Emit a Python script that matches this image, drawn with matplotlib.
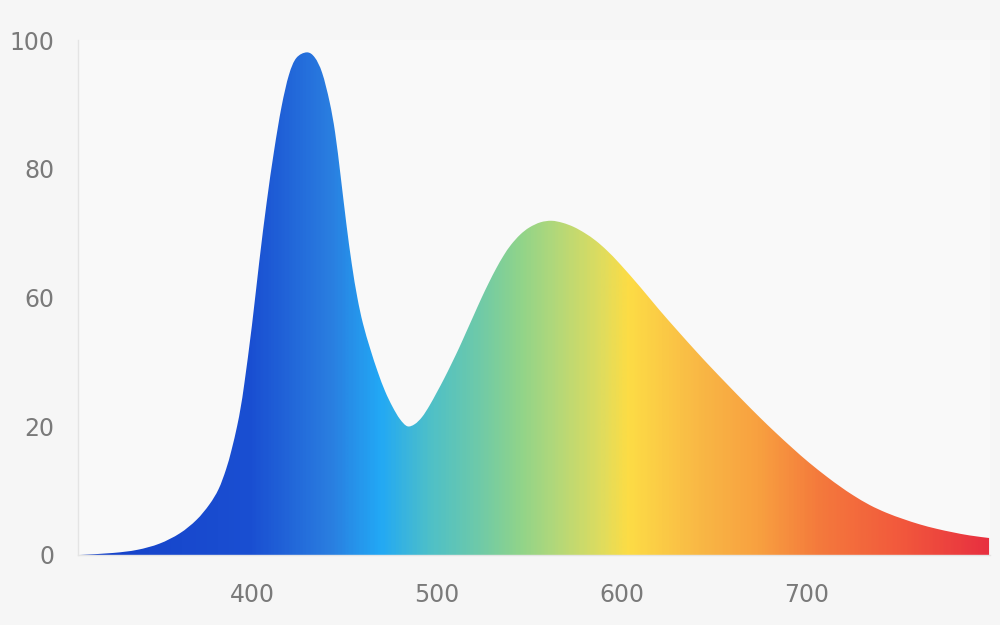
import numpy as np
import matplotlib.pyplot as plt
from matplotlib.path import Path
from matplotlib.patches import PathPatch
from matplotlib.colors import LinearSegmentedColormap

# spectrum (nm, relative intensity on the axis scale)
wavelength = [307, 325, 338, 350, 361, 370, 377, 382, 386, 389,
              392, 394, 396, 400, 404, 408, 412, 416, 420, 424,
              429.7, 434, 438, 442, 445, 448, 451, 454, 457, 460,
              464, 468, 472, 476, 480, 484, 488, 492, 496, 500,
              504, 508, 512, 516, 520, 524, 528, 532, 536, 540,
              545, 550, 556, 562, 568, 574, 580, 586, 592, 599,
              610, 620, 630, 640, 648, 656.8, 666, 674.6, 683, 692.4,
              701, 710.8, 718, 725, 734, 743, 752, 761, 770, 779,
              788, 798.5]
intensity = [0.0, 0.4, 1.0, 2.2, 4.2, 6.8, 9.8, 12.8, 16.6, 20.4,
             25.0, 28.8, 33.5, 44.5, 57.0, 68.5, 78.5, 87.0, 93.2, 96.5,
             97.6, 96.6, 93.6, 88.0, 82.0, 73.5, 64.5, 56.5, 50.0, 45.0,
             40.0, 35.6, 31.8, 28.8, 26.4, 25.0, 25.4, 26.8, 29.0, 31.6,
             34.3, 37.2, 40.2, 43.4, 46.6, 49.8, 52.8, 55.6, 58.1, 60.2,
             62.2, 63.6, 64.6, 64.9, 64.5, 63.7, 62.5, 61.0, 59.1, 56.5,
             52.0, 47.7, 43.6, 39.6, 36.5, 33.2, 29.8, 26.7, 23.8, 20.7,
             18.0, 15.2, 13.3, 11.6, 9.7, 8.2, 7.0, 5.95, 5.1, 4.4,
             3.8, 3.3]

# colour stops of the fill along the wavelength axis
grad_nm = [306, 399, 442, 469, 496, 523, 545, 566, 588, 604, 642, 675, 707, 750, 799]
grad_colors = ['#1540c8', '#1a4fd2', '#2a7ee0', '#22a8f5', '#4ec0c8', '#6fcaa8',
               '#90d48a', '#b5d878', '#dcdc60', '#fddc45', '#f9b845', '#f8a040',
               '#f47a3c', '#f25a3c', '#e83040']

xticks = [400, 500, 600, 700]
ytick_pos = [0, 25, 50, 75, 100]
ytick_labels = ['0', '20', '60', '80', '100']

fig = plt.figure(figsize=(10, 6.25), dpi=100, facecolor='#f6f6f6')
ax = fig.add_axes([0.078, 0.112, 0.912, 0.824])
ax.set_facecolor('#f9f9f9')

# smooth outline (Catmull-Rom through the read points)
P = np.column_stack([wavelength, intensity])
n = len(P)
verts = [tuple(P[0])]
codes = [Path.MOVETO]
for i in range(n - 1):
    p0 = P[i - 1] if i > 0 else P[i]
    p1 = P[i]
    p2 = P[i + 1]
    p3 = P[i + 2] if i + 2 < n else P[i + 1]
    c1 = p1 + (p2 - p0) / 6.0
    c2 = p2 - (p3 - p1) / 6.0
    verts += [tuple(c1), tuple(c2), tuple(p2)]
    codes += [Path.CURVE4] * 3
verts += [(wavelength[-1], 0), (wavelength[0], 0), (wavelength[0], 0)]
codes += [Path.LINETO, Path.LINETO, Path.CLOSEPOLY]

patch = PathPatch(Path(verts, codes), facecolor='none', edgecolor='none')
ax.add_patch(patch)

lo, hi = grad_nm[0], grad_nm[-1]
cmap = LinearSegmentedColormap.from_list(
    'spec', [((g - lo) / (hi - lo), c) for g, c in zip(grad_nm, grad_colors)])
grid = np.linspace(lo, hi, 600).reshape(1, -1)
im = ax.imshow(grid, cmap=cmap, extent=(lo, hi, 0, 100), aspect='auto',
               origin='lower', interpolation='bilinear')
im.set_clip_path(patch)

ax.set_xlim(306, 799)
ax.set_ylim(0, 100)

ax.set_xticks(xticks)
ax.set_yticks(ytick_pos)
ax.set_yticklabels(ytick_labels)
ax.tick_params(length=0, labelsize=17, labelcolor='#7a7a7a')
ax.tick_params(axis='x', pad=20)
ax.tick_params(axis='y', pad=17)

for s in ['top', 'right']:
    ax.spines[s].set_visible(False)
for s in ['left', 'bottom']:
    ax.spines[s].set_color('#e4e4e4')
    ax.spines[s].set_linewidth(1.0)

fig.savefig('out.png', dpi=100, facecolor=fig.get_facecolor())
